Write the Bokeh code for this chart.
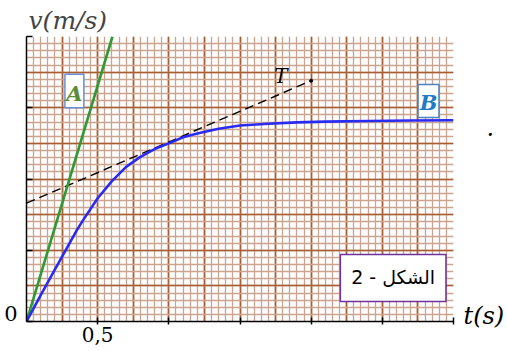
import numpy as np
from bokeh.plotting import figure
from bokeh.models import Range1d, FixedTicker, Label, BoxAnnotation, LinearAxis
from bokeh.embed import file_html
from bokeh.resources import INLINE

# ---- data (t in s, v in tick units) ----
t_B = [0.0, 0.1, 0.2, 0.3, 0.35, 0.4, 0.5, 0.6, 0.7, 0.8, 0.9, 1.0, 1.1, 1.2,
       1.35, 1.5, 1.7, 1.9, 2.1, 2.4, 2.7, 3.0]
v_B = [0.0, 0.37, 0.73, 1.09, 1.27, 1.43, 1.73, 1.97, 2.17, 2.31, 2.42, 2.50,
       2.585, 2.64, 2.705, 2.75, 2.775, 2.795, 2.805, 2.815, 2.822, 2.825]
t_A = [0.0, 0.604]
v_A = [0.0, 4.0]
t_T = [0.0, 2.0]
v_T = [1.66, 3.38]
x_ticks = [0.5, 1.0, 1.5, 2.0, 2.5, 3.0]
x_tick_labels = {0.5: "0,5", 1.0: "", 1.5: "", 2.0: "", 2.5: "", 3.0: ""}
y_ticks = [0, 1, 2, 3, 4]

SERIF = "DejaVu Serif"

p = figure(width=507, height=351, x_range=Range1d(0, 3), y_range=Range1d(0, 4),
           output_backend="svg", toolbar_location=None,
           min_border_left=26, min_border_right=53, min_border_top=36,
           min_border_bottom=30)
p.outline_line_color = None
p.background_fill_color = "white"
p.border_fill_color = "white"

# title used as the v axis name
p.title.text = "v(m/s)"
p.title.text_font = SERIF
p.title.text_font_style = "italic"
p.title.text_font_size = "25px"
p.title.text_font_style = "italic"
p.title.align = "left"
p.title.offset = 2
p.title.standoff = 3

# graph-paper grid
gx_major = list(np.round(np.arange(0, 3.0001, 0.25), 4))
gx_minor = list(np.round(np.arange(0, 3.0001, 0.05), 4))
gy_major = list(np.round(np.arange(0, 4.0001, 0.5), 4))
gy_minor = list(np.round(np.arange(0, 4.0001, 0.1), 4))
p.xgrid.ticker = FixedTicker(ticks=gx_major, minor_ticks=gx_minor)
p.ygrid.ticker = FixedTicker(ticks=gy_major, minor_ticks=gy_minor)
for g in (p.xgrid, p.ygrid):
    g.grid_line_color = "#a85e30"
    g.grid_line_width = 1.7
    g.minor_grid_line_color = "#caa48e"
    g.minor_grid_line_width = 1.3

# bottom axis
xa = p.xaxis[0]
xa.ticker = FixedTicker(ticks=x_ticks, minor_ticks=[])
xa.major_label_overrides = x_tick_labels
xa.major_label_text_font = SERIF
xa.major_label_text_font_size = "20px"
xa.major_label_text_color = "black"
xa.major_label_standoff = 2
xa.major_tick_in = 4
xa.major_tick_out = 3
xa.major_tick_line_width = 1.5
xa.axis_line_width = 1.5
xa.axis_line_color = "black"
xa.major_tick_line_color = "black"

# left axis (ticks only)
ya = p.yaxis[0]
ya.ticker = FixedTicker(ticks=y_ticks, minor_ticks=[])
ya.major_label_overrides = {k: "" for k in y_ticks}
ya.major_label_standoff = 0
ya.major_tick_in = 6
ya.major_tick_out = 0
ya.major_tick_line_width = 1.5
ya.axis_line_width = 1.5
ya.axis_line_color = "black"
ya.major_tick_line_color = "black"

# extra left axis carrying the origin label "0"
ax0 = LinearAxis(ticker=FixedTicker(ticks=[0.11], minor_ticks=[]),
                 major_label_overrides={0.11: "0"},
                 major_label_text_font=SERIF, major_label_text_font_size="21px",
                 major_label_text_color="black", major_label_standoff=9,
                 major_tick_in=0, major_tick_out=0, axis_line_color=None,
                 major_tick_line_color=None, minor_tick_line_color=None)
p.add_layout(ax0, "left")

# right axis carrying the t axis name and the stray dot
axr = LinearAxis(ticker=FixedTicker(ticks=[0.08, 2.72], minor_ticks=[]),
                 major_label_overrides={0.08: "t(s)", 2.72: "\u00a0\u00a0\u00a0."},
                 major_label_text_font=SERIF, major_label_text_font_style="italic",
                 major_label_text_font_size="24px",
                 major_label_text_color="black", major_label_standoff=10,
                 major_tick_in=0, major_tick_out=0, axis_line_color=None,
                 major_tick_line_color=None, minor_tick_line_color=None)
p.add_layout(axr, "right")

# lines
p.line(t_T, v_T, line_color="black", line_width=1.4, line_dash="9 5")
p.scatter(t_T[-1:], v_T[-1:], size=3, color="black")
p.line(t_A, v_A, line_color="#2f9a34", line_width=2.6)
p.line(t_B, v_B, line_color="#2a2af5", line_width=2.6)

# boxes with labels
p.add_layout(BoxAnnotation(left=0.27, right=0.403, bottom=3.0, top=3.47,
                           fill_color="white", fill_alpha=1,
                           line_color="#6a8fd6", line_width=1.5, line_alpha=1))
p.add_layout(Label(x=0.336, y=3.2, text="A", text_font=SERIF,
                   text_font_style="bold italic", text_font_size="21px",
                   text_color="#5a8c3a", text_align="center",
                   text_baseline="middle"))
p.add_layout(BoxAnnotation(left=2.751, right=2.898, bottom=2.863, top=3.326,
                           fill_color="white", fill_alpha=1,
                           line_color="#4f81bd", line_width=1.5, line_alpha=1))
p.add_layout(Label(x=2.826, y=3.07, text="B", text_font=SERIF,
                   text_font_style="bold italic", text_font_size="21px",
                   text_color="#1e7cc4", text_align="center",
                   text_baseline="middle"))
p.add_layout(BoxAnnotation(left=2.205, right=2.947, bottom=0.281, top=0.94,
                           fill_color="white", fill_alpha=1,
                           line_color="#7030a0", line_width=1.5, line_alpha=1))
p.add_layout(Label(x=2.576, y=0.62, text="الشكل - 2", text_font="DejaVu Sans",
                   text_font_size="19px", text_color="black",
                   text_align="center", text_baseline="middle"))

# tangent label
p.add_layout(Label(x=1.787, y=3.45, text="T", text_font=SERIF,
                   text_font_style="italic", text_font_size="20px",
                   text_color="black", text_align="center",
                   text_baseline="middle"))

open("out.html", "w").write(file_html(p, INLINE))
